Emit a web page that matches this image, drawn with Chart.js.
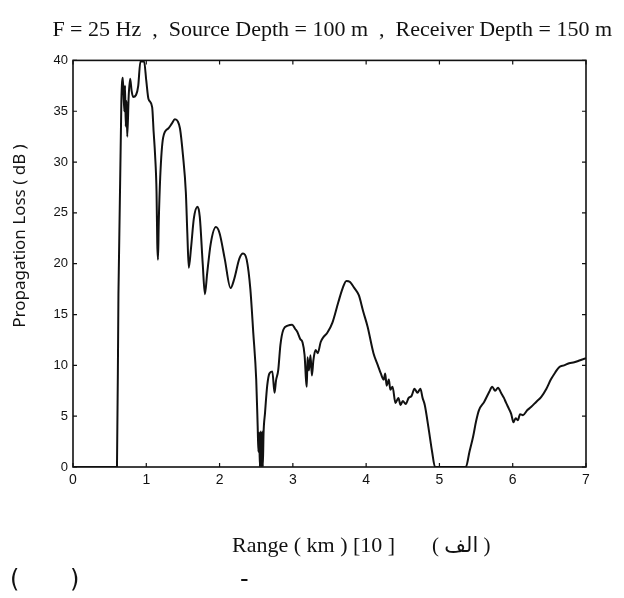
<!DOCTYPE html>
<html>
<head>
<meta charset="utf-8">
<script src="https://cdn.jsdelivr.net/npm/chart.js@4"></script>
<style>
  html, body { margin: 0; padding: 0; background: #fff; }
  #wrap { width: 624px; height: 598px; }
</style>
</head>
<body>
<div id="wrap"><canvas id="chart" width="624" height="598"></canvas></div>
<script>
const titleText = "F = 25 Hz  ,  Source Depth = 100 m  ,  Receiver Depth = 150 m";
const yLabel = "Propagation Loss ( dB )";
const xLabel = "Range ( km ) [10 ]";
const xLabelArabic = "( الف )";

const xTicks = [0, 1, 2, 3, 4, 5, 6, 7];
const yTicks = [0, 5, 10, 15, 20, 25, 30, 35, 40];

// range in km
const rangeKm = [
    0, 0.60, 0.62, 0.66, 0.68, 0.70, 0.71, 0.72, 0.73, 0.74, 0.76, 0.78, 0.80, 0.82, 0.86, 0.89,
    0.92, 0.97, 1.00, 1.03, 1.08, 1.10, 1.12, 1.14, 1.15, 1.16, 1.17, 1.19, 1.23, 1.30, 1.35, 1.39,
    1.43, 1.46, 1.50, 1.54, 1.56, 1.58, 1.61, 1.65, 1.70, 1.73, 1.77, 1.80, 1.83, 1.88, 1.95, 2.00,
    2.07, 2.15, 2.20, 2.27, 2.32, 2.37, 2.42, 2.46, 2.50, 2.52, 2.53, 2.54, 2.55, 2.56, 2.57, 2.58,
    2.59, 2.60, 2.62, 2.65, 2.68, 2.72, 2.75, 2.77, 2.80, 2.83, 2.87, 2.93, 2.99, 3.03, 3.06, 3.10,
    3.13, 3.16, 3.18, 3.19, 3.20, 3.22, 3.24, 3.26, 3.28, 3.31, 3.34, 3.38, 3.42, 3.47, 3.54, 3.62,
    3.68, 3.73, 3.78, 3.84, 3.90, 3.96, 4.02, 4.10, 4.16, 4.20, 4.24, 4.26, 4.28, 4.31, 4.33, 4.36,
    4.40, 4.44, 4.47, 4.50, 4.54, 4.58, 4.62, 4.66, 4.70, 4.74, 4.77, 4.80, 4.85, 4.90, 4.94, 5.36,
    5.41, 5.46, 5.50, 5.54, 5.61, 5.68, 5.72, 5.76, 5.80, 5.84, 5.88, 5.91, 5.95, 5.98, 6.01, 6.04,
    6.07, 6.10, 6.14, 6.20, 6.25, 6.32, 6.39, 6.46, 6.52, 6.58, 6.63, 6.70, 6.77, 6.84, 6.92, 7.00
];
// propagation loss in dB
const lossDb = [
    0, 0, 17, 36, 38.3, 35, 37.5, 33.5, 36, 32.5, 36.5, 38.2, 37, 36.4, 36.6, 37.5,
    39.9, 39.9, 38, 36.2, 35.4, 33, 30.7, 27, 22, 20.4, 24, 28.5, 32.4, 33.3, 33.8, 34.2,
    34, 33.3, 30.7, 27, 23, 19.6, 21.5, 24.5, 25.6, 24.6, 20, 17, 19, 22, 23.6, 23,
    20.5, 17.6, 18.5, 20.5, 21, 20.4, 17.5, 13.2, 8.6, 4, 1.5, 3.4, 0, 3.5, 0, 3.5,
    0, 3.3, 5.3, 8, 9.2, 9.4, 7.3, 8.5, 9.5, 12, 13.5, 13.9, 14.0, 13.6, 13.3, 12.6,
    12.3, 11, 8.5, 7.9, 10.8, 9.5, 11, 9.0, 10.5, 11.5, 11.2, 12.3, 12.8, 13.2, 14.2, 16.2,
    17.6, 18.3, 18.2, 17.6, 16.9, 15.3, 13.8, 11.2, 10.0, 9.2, 8.6, 9.2, 8.0, 8.6, 7.6, 7.9,
    6.3, 6.8, 6.1, 6.5, 6.2, 6.8, 7.0, 7.7, 7.3, 7.7, 6.8, 6.1, 3.9, 1.5, 0, 0,
    1.5, 3.0, 4.5, 5.6, 6.4, 7.4, 7.9, 7.5, 7.8, 7.3, 6.8, 6.3, 5.7, 5.2, 4.4, 4.8,
    4.6, 5.2, 5.1, 5.6, 5.9, 6.4, 6.9, 7.7, 8.6, 9.3, 9.8, 10.0, 10.2, 10.3, 10.5, 10.7
];

const ink = "#111";

// box round the plot, with short ticks pointing inwards, plus free-standing texts
const framePlugin = {
    id: 'frame',
    afterDraw(chart) {
        const ctx = chart.ctx;
        const a = chart.chartArea;
        const xs = chart.scales.x;
        const ys = chart.scales.y;
        ctx.save();
        ctx.strokeStyle = ink;
        ctx.lineWidth = 1.6;
        ctx.strokeRect(a.left, a.top, a.right - a.left, a.bottom - a.top);
        ctx.lineWidth = 1.2;
        ctx.beginPath();
        xTicks.forEach(v => {
            const px = xs.getPixelForValue(v);
            ctx.moveTo(px, a.bottom); ctx.lineTo(px, a.bottom - 4);
            ctx.moveTo(px, a.top); ctx.lineTo(px, a.top + 4);
        });
        yTicks.forEach(v => {
            const py = ys.getPixelForValue(v);
            ctx.moveTo(a.left, py); ctx.lineTo(a.left + 4, py);
            ctx.moveTo(a.right, py); ctx.lineTo(a.right - 4, py);
        });
        ctx.stroke();

        ctx.fillStyle = ink;
        ctx.textBaseline = 'middle';

        // y axis label, rotated
        ctx.save();
        ctx.translate(20, 236);
        ctx.rotate(-Math.PI / 2);
        ctx.textAlign = 'center';
        ctx.font = "17px 'Noto Sans'";
        ctx.fillText(yLabel, 0, 0);
        ctx.restore();

        // x axis label
        ctx.textAlign = 'left';
        ctx.font = "22px 'Liberation Serif'";
        ctx.fillText(xLabel, 232, 546);
        ctx.font = "21px 'Liberation Serif', 'DejaVu Sans'";
        ctx.fillText(xLabelArabic, 432, 546);

        // stray marks on the last line of the page
        ctx.font = "24px 'DejaVu Sans'";
        ctx.fillText("(", 10, 581);
        ctx.fillText(")", 70, 581);
        ctx.fillText("-", 240, 581);
        ctx.restore();
    }
};

const points = rangeKm.map((r, i) => ({ x: r, y: lossDb[i] }));

new Chart(document.getElementById('chart'), {
    type: 'line',
    data: {
        datasets: [{
            label: 'loss',
            data: points,
            borderColor: ink,
            borderWidth: 2,
            pointRadius: 0,
            fill: false,
            cubicInterpolationMode: 'monotone',
            yAxisID: 'y'
        }]
    },
    options: {
        responsive: false,
        animation: false,
        layout: { padding: { left: 0, right: 12, top: 0, bottom: 0 } },
        plugins: {
            legend: { display: false },
            tooltip: { enabled: false },
            title: {
                display: true,
                text: titleText,
                align: 'end',
                color: ink,
                font: { family: 'Liberation Serif', size: 22, weight: 'normal' },
                padding: { top: 17, bottom: 17 }
            }
        },
        scales: {
            x: {
                type: 'linear',
                min: 0,
                max: 7,
                grid: { display: false, drawTicks: false },
                border: { display: false },
                ticks: {
                    stepSize: 1,
                    color: ink,
                    padding: 5,
                    font: { family: 'Liberation Sans', size: 14 }
                },
                afterFit(s) { s.height = 131; }
            },
            y: {
                min: 0,
                max: 40,
                grid: { display: false, drawTicks: false },
                border: { display: false },
                ticks: {
                    stepSize: 5,
                    color: ink,
                    padding: 5,
                    font: { family: 'Liberation Sans', size: 13 }
                },
                afterFit(s) { s.width = 73; }
            },
            y2: {
                position: 'right',
                min: 0,
                max: 40,
                grid: { display: false, drawTicks: false },
                border: { display: false },
                ticks: { display: false },
                afterFit(s) { s.width = 26; }
            }
        }
    },
    plugins: [framePlugin]
});
</script>
</body>
</html>
